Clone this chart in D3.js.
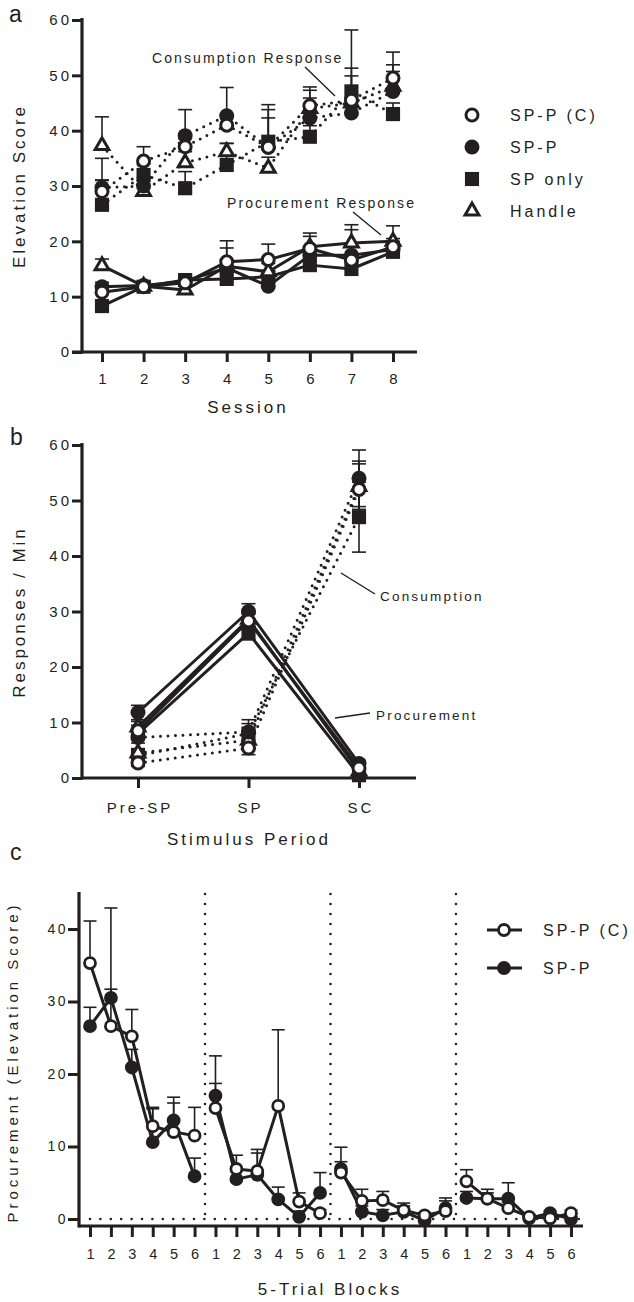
<!DOCTYPE html>
<html>
<head>
<meta charset="utf-8">
<script src="https://cdn.jsdelivr.net/npm/d3@7"></script>
<style>
  body { margin: 0; background: #fff; }
  svg text { font-family: "Liberation Sans", Arial, sans-serif; fill: #231f20; }
</style>
</head>
<body>
<svg id="fig" width="634" height="1302"></svg>
<script>
// ---- panel a : elevation score by session ----
const sessions = [1, 2, 3, 4, 5, 6, 7, 8];
const groupNames = ['SP-P (C)', 'SP-P', 'SP only', 'Handle'];

const aConsSPPC = [29.0, 34.5, 37.1, 41.0, 37.0, 44.5, 45.5, 49.5];
const aConsSPPCErr = [2.0, 2.6, 1.5, 1.9, 5.3, 3.4, 5.8, 4.7];
const aConsSPP = [29.7, 30.0, 39.1, 42.7, 37.0, 42.3, 43.2, 47.1];
const aConsSPPErr = [5.3, 1.5, 4.7, 5.1, 6.8, 3.6, 2.0, 3.6];
const aConsSPonly = [26.6, 32.0, 29.6, 33.8, 38.0, 38.9, 47.1, 43.0];
const aConsSPonlyErr = [4.5, 2.0, 3.0, 3.9, 6.7, 2.0, 11.1, 2.0];
const aConsHandle = [37.3, 29.0, 34.2, 36.2, 33.2, 44.0, 45.0, 48.0];
const aConsHandleErr = [5.2, 2.0, 2.0, 1.5, 2.0, 3.3, 4.9, 3.9];

const aProcSPPC = [10.8, 11.8, 12.5, 16.3, 16.7, 18.7, 16.6, 19.0];
const aProcSPPCErr = [0.8, 0.8, 0.8, 3.8, 2.8, 2.8, 5.5, 1.5];
const aProcSPP = [11.8, 12.0, 12.8, 15.2, 11.9, 17.5, 17.5, 18.5];
const aProcSPPErr = [0.8, 0.8, 0.8, 1.5, 1.5, 1.5, 1.5, 1.5];
const aProcSPonly = [8.3, 11.8, 13.0, 13.2, 13.6, 15.7, 15.0, 18.1];
const aProcSPonlyErr = [0.8, 0.8, 0.8, 1.0, 1.0, 1.5, 1.5, 1.5];
const aProcHandle = [15.6, 11.9, 11.2, 15.5, 14.5, 19.0, 19.7, 20.0];
const aProcHandleErr = [1.2, 0.8, 0.8, 3.3, 1.5, 1.9, 3.3, 2.8];

// ---- panel b : responses per min by stimulus period ----
const periods = ['Pre-SP', 'SP', 'SC'];
const bConsSPPC = [2.7, 5.4, 52.0];
const bConsSPPCErr = [0.6, 1.2, 5.1];
const bConsSPP = [7.3, 8.3, 54.0];
const bConsSPPErr = [1.0, 1.5, 5.1];
const bConsSPonly = [4.0, 8.0, 47.0];
const bConsSPonlyErr = [1.0, 2.5, 6.3];
const bConsHandle = [4.5, 6.8, 52.5];
const bConsHandleErr = [0.8, 1.5, 4.1];

const bProcSPPC = [8.5, 28.3, 1.8];
const bProcSPPCErr = [1.0, 1.2, 0.6];
const bProcSPP = [11.8, 30.0, 2.6];
const bProcSPPErr = [1.3, 1.4, 0.6];
const bProcSPonly = [8.0, 26.1, 0.5];
const bProcSPonlyErr = [1.0, 1.2, 0.6];
const bProcHandle = [9.2, 28.6, 1.2];
const bProcHandleErr = [1.0, 1.2, 0.6];

// ---- panel c : procurement over 5-trial blocks (4 sessions x 6 blocks) ----
const cTrials = [1, 2, 3, 4, 5, 6];
const cSessions = 4;
const cSPPC = [35.3, 26.6, 25.2, 12.8, 12.0, 11.5,
               15.3, 6.9, 6.6, 15.6, 2.4, 0.8,
               6.4, 2.5, 2.6, 1.2, 0.5, 1.1,
               5.2, 2.8, 1.5, 0.3, 0.1, 0.8];
const cSPPCErr = [5.8, 16.3, 3.7, 2.6, 4.0, 3.9,
                  3.4, 1.9, 3.0, 10.5, 1.2, 0.5,
                  1.5, 1.6, 1.2, 1.0, 0.4, 1.8,
                  1.6, 1.3, 0.8, 0.3, 0.3, 0.4];
const cSPP = [26.6, 30.5, 20.9, 10.6, 13.6, 5.9,
              17.0, 5.5, 6.1, 2.7, 0.3, 3.6,
              6.9, 1.0, 0.5, 1.0, -0.2, 1.5,
              2.9, 2.8, 2.8, 0.1, 0.8, 0.0];
const cSPPErr = [2.6, 1.2, 2.5, 4.6, 3.2, 2.5,
                 5.5, 1.5, 3.0, 1.7, 0.8, 2.8,
                 3.0, 0.8, 0.8, 0.8, 0.4, 1.0,
                 0.9, 0.8, 2.2, 0.3, 0.3, 0.3];

const ink = '#231f20';
const svg = d3.select('#fig');

const marks = {
  openCircle: { sym: d3.symbolCircle, size: 113, fill: '#fff', sw: 3 },
  circle: { sym: d3.symbolCircle, size: 177, fill: ink, sw: 0 },
  square: { sym: d3.symbolSquare, size: 200, fill: ink, sw: 0 },
  triangle: { sym: d3.symbolTriangle, size: 82, fill: '#fff', sw: 3 },
  openCircleC: { sym: d3.symbolCircle, size: 95, fill: '#fff', sw: 2.8 },
  circleC: { sym: d3.symbolCircle, size: 150, fill: ink, sw: 0 }
};

function toPts(keys, vals, errs) {
  return vals.map((v, i) => ({ k: keys[i], v: v, e: errs[i] }));
}

function drawLine(g, pts, x, y, dotted) {
  const line = d3.line().x(d => x(d.k)).y(d => y(d.v));
  g.append('path')
    .datum(pts)
    .attr('d', line)
    .attr('fill', 'none')
    .attr('stroke', ink)
    .attr('stroke-width', 3)
    .attr('stroke-linecap', 'round')
    .attr('stroke-linejoin', 'round')
    .attr('stroke-dasharray', dotted ? '0,7.5' : null);
}

function drawErrors(g, pts, x, y, both, cap) {
  const eg = g.append('g').attr('stroke', ink).attr('stroke-width', 1.6);
  eg.selectAll(null).data(pts).join('line')
    .attr('x1', d => x(d.k)).attr('x2', d => x(d.k))
    .attr('y1', d => y(both ? d.v - d.e : d.v))
    .attr('y2', d => y(d.v + d.e));
  eg.selectAll(null).data(pts).join('line')
    .attr('x1', d => x(d.k) - cap / 2).attr('x2', d => x(d.k) + cap / 2)
    .attr('y1', d => y(d.v + d.e)).attr('y2', d => y(d.v + d.e));
  if (both) {
    eg.selectAll(null).data(pts).join('line')
      .attr('x1', d => x(d.k) - cap / 2).attr('x2', d => x(d.k) + cap / 2)
      .attr('y1', d => y(d.v - d.e)).attr('y2', d => y(d.v - d.e));
  }
}

function drawMarks(g, pts, shape, x, y) {
  const m = marks[shape];
  g.selectAll(null).data(pts).join('path')
    .attr('transform', d => `translate(${x(d.k)},${y(d.v)})`)
    .attr('d', d3.symbol(m.sym, m.size))
    .attr('fill', m.fill)
    .attr('stroke', ink)
    .attr('stroke-width', m.sw);
}

function styleAxis(g, fs, ls) {
  g.select('.domain').remove();
  g.selectAll('.tick line').attr('stroke', ink).attr('stroke-width', 3);
  g.selectAll('.tick text')
    .attr('fill', ink)
    .style('font-size', fs + 'px')
    .style('letter-spacing', ls + 'px');
}

function label(txt, x, y, fs, ls, opts = {}) {
  const t = svg.append('text')
    .attr('x', x).attr('y', y)
    .style('font-size', fs + 'px')
    .style('letter-spacing', ls + 'px')
    .attr('text-anchor', opts.anchor || 'start')
    .text(txt);
  if (opts.rotate) t.attr('transform', `rotate(-90,${x},${y})`);
  return t;
}

function axisLine(x1, y1, x2, y2, w) {
  svg.append('line')
    .attr('x1', x1).attr('y1', y1).attr('x2', x2).attr('y2', y2)
    .attr('stroke', ink).attr('stroke-width', w || 3.2);
}

// ================= panel a =================
const xA = d3.scaleLinear().domain([1, 8]).range([102, 393]);
const yA = d3.scaleLinear().domain([0, 60]).range([352, 20]);
const gA = svg.append('g');

const aSeries = [
  { shape: 'square', cons: aConsSPonly, consE: aConsSPonlyErr, proc: aProcSPonly, procE: aProcSPonlyErr },
  { shape: 'triangle', cons: aConsHandle, consE: aConsHandleErr, proc: aProcHandle, procE: aProcHandleErr },
  { shape: 'circle', cons: aConsSPP, consE: aConsSPPErr, proc: aProcSPP, procE: aProcSPPErr },
  { shape: 'openCircle', cons: aConsSPPC, consE: aConsSPPCErr, proc: aProcSPPC, procE: aProcSPPCErr }
];
aSeries.forEach(s => {
  drawLine(gA, toPts(sessions, s.cons, s.consE), xA, yA, true);
  drawLine(gA, toPts(sessions, s.proc, s.procE), xA, yA, false);
});
aSeries.forEach(s => {
  drawErrors(gA, toPts(sessions, s.cons, s.consE), xA, yA, false, 14);
  drawErrors(gA, toPts(sessions, s.proc, s.procE), xA, yA, false, 14);
});
aSeries.forEach(s => {
  drawMarks(gA, toPts(sessions, s.cons, s.consE), s.shape, xA, yA);
  drawMarks(gA, toPts(sessions, s.proc, s.procE), s.shape, xA, yA);
});

const ayAxis = svg.append('g').attr('transform', 'translate(82,0)')
  .call(d3.axisLeft(yA).tickValues([0, 10, 20, 30, 40, 50, 60]).tickSize(10).tickPadding(0));
styleAxis(ayAxis, 15, 3);
const axAxis = svg.append('g').attr('transform', 'translate(0,352)')
  .call(d3.axisBottom(xA).tickValues(sessions).tickFormat(d3.format('d')).tickSize(10).tickPadding(11));
styleAxis(axAxis, 15, 3);
axAxis.selectAll('.tick text').attr('dx', 1.5);
axisLine(82, 18, 82, 353.6);
axisLine(72, 352, 417, 352);

label('Consumption Response', 152, 63, 14, 2.1);
axisLine(305, 67, 335, 96, 1.4);
label('Procurement Response', 227, 208, 14, 2.1);
axisLine(353, 212, 381, 235, 1.4);

label('a', 9, 22, 23, 0);
label('Session', 248, 413, 17, 3, { anchor: 'middle' });
label('Elevation Score', 25, 186, 17, 3, { anchor: 'middle', rotate: true });

// legend a
const legA = svg.append('g');
const legShapes = ['openCircle', 'circle', 'square', 'triangle'];
const legY = d3.scalePoint().domain(groupNames).range([115, 211]);
legShapes.forEach((sh, i) => {
  drawMarks(legA, [{ k: 0, v: groupNames[i] }], sh, () => 472, v => legY(v));
  label(groupNames[i], 510, legY(groupNames[i]) + 6, 16, 3);
});

// ================= panel b =================
const xB = d3.scalePoint().domain(periods).range([138, 359]);
const yB = d3.scaleLinear().domain([0, 60]).range([778, 445]);
const gB = svg.append('g');

const bSeries = [
  { shape: 'square', cons: bConsSPonly, consE: bConsSPonlyErr, proc: bProcSPonly, procE: bProcSPonlyErr },
  { shape: 'triangle', cons: bConsHandle, consE: bConsHandleErr, proc: bProcHandle, procE: bProcHandleErr },
  { shape: 'circle', cons: bConsSPP, consE: bConsSPPErr, proc: bProcSPP, procE: bProcSPPErr },
  { shape: 'openCircle', cons: bConsSPPC, consE: bConsSPPCErr, proc: bProcSPPC, procE: bProcSPPCErr }
];
bSeries.forEach(s => {
  drawLine(gB, toPts(periods, s.cons, s.consE), xB, yB, true);
  drawLine(gB, toPts(periods, s.proc, s.procE), xB, yB, false);
});
bSeries.forEach(s => {
  drawErrors(gB, toPts(periods, s.cons, s.consE), xB, yB, true, 14);
  drawErrors(gB, toPts(periods, s.proc, s.procE), xB, yB, true, 14);
});
bSeries.forEach(s => {
  drawMarks(gB, toPts(periods, s.cons, s.consE), s.shape, xB, yB);
  drawMarks(gB, toPts(periods, s.proc, s.procE), s.shape, xB, yB);
});

const byAxis = svg.append('g').attr('transform', 'translate(82,0)')
  .call(d3.axisLeft(yB).tickValues([0, 10, 20, 30, 40, 50, 60]).tickSize(10).tickPadding(0));
styleAxis(byAxis, 15, 3);
const bxAxis = svg.append('g').attr('transform', 'translate(0,778)')
  .call(d3.axisBottom(xB).tickSize(10).tickPadding(14));
styleAxis(bxAxis, 15, 3);
bxAxis.selectAll('.tick text').attr('dx', 1.5);
axisLine(82, 443, 82, 779.6);
axisLine(82, 778, 416, 778);

label('Consumption', 380, 601, 13.5, 2.2);
axisLine(341, 573, 375, 594, 1.4);
label('Procurement', 376, 720, 13.5, 2.2);
axisLine(335, 718, 370, 713, 1.4);

label('b', 10, 445, 23, 0);
label('Stimulus Period', 249, 845, 17, 3, { anchor: 'middle' });
label('Responses / Min', 25, 612, 17, 3, { anchor: 'middle', rotate: true });

// ================= panel c =================
const cIdx = d3.range(cTrials.length * cSessions);
const xC = d3.scaleLinear().domain([0, cIdx.length - 1]).range([90, 571]);
const yC = d3.scaleLinear().domain([0, 40]).range([1219, 929]);
const gC = svg.append('g');

// session dividers and zero line
gC.selectAll(null).data(d3.range(1, cSessions)).join('line')
  .attr('x1', d => xC(d * cTrials.length - 0.5)).attr('x2', d => xC(d * cTrials.length - 0.5))
  .attr('y1', 894).attr('y2', 1224)
  .attr('stroke', ink).attr('stroke-width', 2.6)
  .attr('stroke-linecap', 'round').attr('stroke-dasharray', '0,10');
gC.append('line')
  .attr('x1', 90).attr('x2', 583).attr('y1', yC(0)).attr('y2', yC(0))
  .attr('stroke', ink).attr('stroke-width', 2.6)
  .attr('stroke-linecap', 'round').attr('stroke-dasharray', '0,10.4');

const cSeries = [
  { shape: 'circleC', vals: cSPP, errs: cSPPErr },
  { shape: 'openCircleC', vals: cSPPC, errs: cSPPCErr }
];
cSeries.forEach(s => {
  const pts = toPts(cIdx, s.vals, s.errs);
  d3.range(cSessions).forEach(b => {
    drawLine(gC, pts.slice(b * cTrials.length, (b + 1) * cTrials.length), xC, yC, false);
  });
});
cSeries.forEach(s => drawErrors(gC, toPts(cIdx, s.vals, s.errs), xC, yC, false, 13));
cSeries.forEach(s => drawMarks(gC, toPts(cIdx, s.vals, s.errs), s.shape, xC, yC));

const cyAxis = svg.append('g').attr('transform', 'translate(79,0)')
  .call(d3.axisLeft(yC).tickValues([0, 10, 20, 30, 40]).tickSize(11).tickPadding(0));
styleAxis(cyAxis, 14, 2.5);
const cxAxis = svg.append('g').attr('transform', 'translate(0,1226)')
  .call(d3.axisBottom(xC).tickValues(cIdx).tickFormat(i => cTrials[i % cTrials.length])
    .tickSize(11).tickPadding(12));
styleAxis(cxAxis, 14.5, 0);
axisLine(79, 892, 79, 1227.6);
axisLine(79, 1226, 583, 1226);

label('c', 10, 860, 23, 0);
label('5-Trial Blocks', 330, 1295, 17, 3, { anchor: 'middle' });
label('Procurement (Elevation Score)', 18, 1062, 15, 4, { anchor: 'middle', rotate: true });

// legend c
const legC = svg.append('g');
const legCNames = groupNames.slice(0, 2);
const legCY = d3.scalePoint().domain(legCNames).range([930, 968]);
const legCShapes = ['openCircleC', 'circleC'];
legCNames.forEach((nm, i) => {
  const yy = legCY(nm);
  legC.append('line').attr('x1', 487).attr('x2', 522).attr('y1', yy).attr('y2', yy)
    .attr('stroke', ink).attr('stroke-width', 3);
  drawMarks(legC, [{ k: 0, v: nm }], legCShapes[i], () => 504, v => legCY(v));
  label(nm, 543, yy + 6, 16, 3);
});
</script>
</body>
</html>
